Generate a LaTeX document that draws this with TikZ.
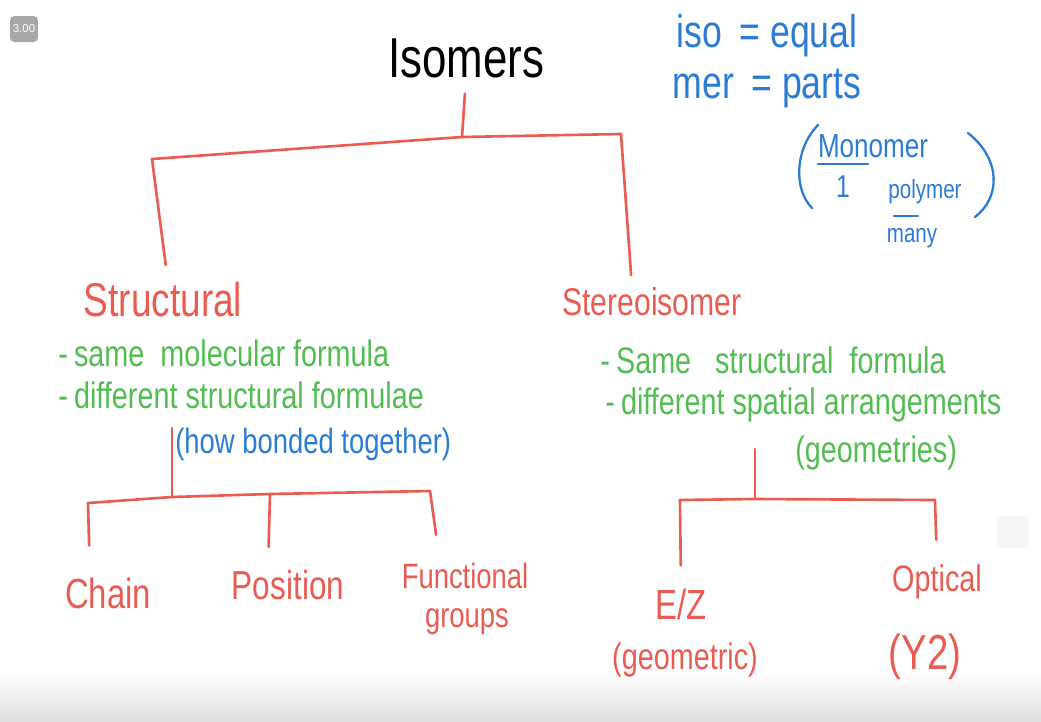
\documentclass[tikz,border=0pt]{standalone}
\usepackage{fontspec}
\setmainfont{Liberation Sans}
\newfontfamily\hand[FakeStretch=0.78]{Liberation Sans}
\usetikzlibrary{calc}
\definecolor{penred}{RGB}{234,92,82}
\definecolor{pengreen}{RGB}{82,190,82}
\definecolor{penblue}{RGB}{44,124,214}
\definecolor{badgegray}{RGB}{168,168,168}
\begin{document}
\begin{tikzpicture}[x=0.02cm,y=-0.02cm,
  hw/.style={font=\hand\fontsize{#1pt}{#1pt}\selectfont, inner sep=0pt},
  redtxt/.style={hw=#1, text=penred},
  greentxt/.style={hw=#1, text=pengreen, anchor=west},
  bluetxt/.style={hw=#1, text=penblue},
  tree/.style={draw=penred, line width=1.5pt, line cap=round, line join=round},
  bluepen/.style={draw=penblue, line width=1.3pt, line cap=round}]
\useasboundingbox (0,0) rectangle (1041,721);
\fill[white] (0,0) rectangle (1041,721);
\shade[top color=white, bottom color=gray!25] (0,672) rectangle (1041,721);

% badge and faint icon
\node (badge) [fill=badgegray, rounded corners=2.5pt, minimum width=0.56cm, minimum height=0.52cm, inner sep=0pt, text=white, font=\fontsize{6.5}{6.5}\selectfont] at (24,29) {3.00};
\node (pip) [fill=gray!7, rounded corners=2.5pt, minimum width=0.64cm, minimum height=0.64cm, inner sep=0pt] at (1013,532) {};

% title
\node (isomers) [hw=32, text=black] at (466,58) {Isomers};

% top-right notes
\node (iso) [bluetxt=26] at (767,36) {iso\, = equal};
\node (mer) [bluetxt=26] at (767,88) {mer\, = parts};
\node (mono) [bluetxt=19] at (873,146) {Monomer};
\node (one) [bluetxt=18] at (843,187) {1};
\node (poly) [bluetxt=15] at (925,192) {polymer};
\node (many) [bluetxt=15] at (912,238) {many};
\draw[bluepen] (818,164) -- (868,164);
\draw[bluepen] (894,216) -- (918,216);
\draw[bluepen] (818,125) .. controls (794,150) and (794,190) .. (812,208);
\draw[bluepen] (968,133) .. controls (1002,160) and (1000,198) .. (975,217);

% level 1
\node (structural) [redtxt=27] at (163,300) {Structural};
\node (stereo) [redtxt=22] at (652,302) {Stereoisomer};

\node (s1) [greentxt=21] at (58,353) {-\,same\ \ molecular formula};
\node (s2) [greentxt=21] at (58,395) {-\,different\ structural\ formulae};
\node (bond) [bluetxt=20, anchor=west] at (175,444) {(how bonded together)};

\node (t1) [greentxt=21] at (600,360) {-\,Same\ \ \ structural\ \ formula};
\node (t2) [greentxt=21] at (605,405) {-\,different spatial arrangements};
\node (geo) [greentxt=21] at (795,453) {(geometries)};

% level 2
\node (chain) [redtxt=24] at (108,593) {Chain};
\node (position) [redtxt=23] at (288,585) {Position};
\node (functional) [redtxt=20] at (465,576) {Functional};
\node (groups) [redtxt=20] at (467,622) {groups};
\node (ez) [redtxt=24] at (681,604) {E/Z};
\node (geometric) [redtxt=21] at (685,660) {(geometric)};
\node (optical) [redtxt=21] at (937,582) {Optical};
\node (y2) [redtxt=28] at (925,657) {(Y2)};

% top tree
\coordinate (a0) at (462,137);
\coordinate (aL) at (152,159);
\coordinate (aR) at (621,134);
\draw[tree, shorten <=9pt] (isomers.south) -- (a0);
\draw[tree] (aL) -- (a0) -- (aR);
\draw[tree, shorten >=10pt] (aL) -- ($(structural.north)+(5,0)$);
\draw[tree, shorten >=7pt] (aR) -- ($(stereo.north)+(-20,0)$);

% structural subtree
\coordinate (bs) at (172,428);
\coordinate (b0) at (172,497);
\coordinate (bL) at (88,503);
\coordinate (bM) at (270,494);
\coordinate (bR) at (430,491);
\draw[tree] (bs) -- (b0);
\draw[tree] (bL) -- (b0) -- (bM) -- (bR);
\draw[tree, shorten >=18pt] (bL) -- ($(chain.north)+(-18,0)$);
\draw[tree, shorten >=13pt] (bM) -- ($(position.north)+(-20,0)$);
\draw[tree, shorten >=16pt] (bR) -- ($(functional.north)+(-25,0)$);

% stereo subtree
\coordinate (cs) at (755,449);
\coordinate (c0) at (755,499);
\coordinate (cL) at (680,500);
\coordinate (cR) at (935,500);
\draw[tree] (cs) -- (c0);
\draw[tree] (cL) -- (c0) -- (cR);
\draw[tree, shorten >=13pt] (cL) -- (ez.north);
\draw[tree, shorten >=14pt] (cR) -- (optical.north);
\end{tikzpicture}
\end{document}
